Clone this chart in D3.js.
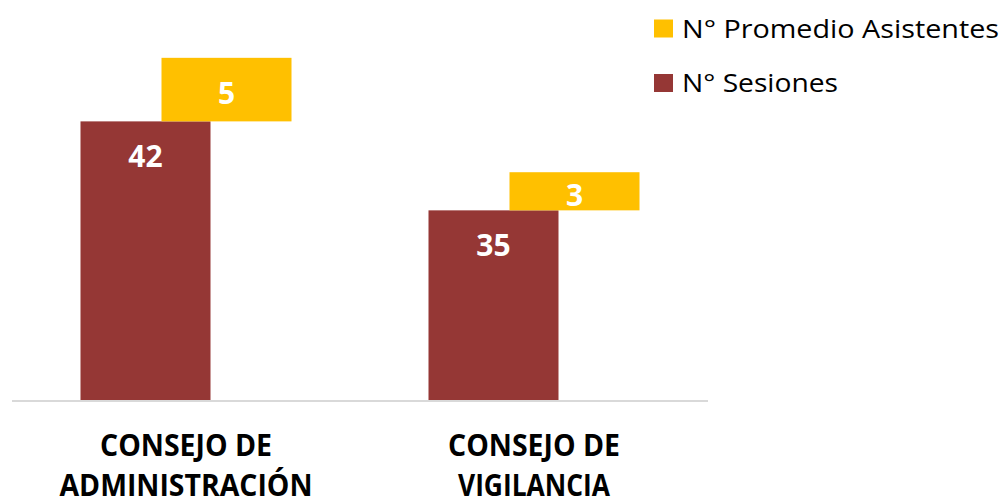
<!DOCTYPE html>
<html>
<head>
<meta charset="utf-8">
<script src="https://cdn.jsdelivr.net/npm/d3@7"></script>
<style>
  html, body { margin: 0; padding: 0; background: #fff; }
  svg { display: block; font-family: "Open Sans", sans-serif; }
</style>
</head>
<body>
<div id="chart"></div>
<script>

// data
const categories = ["CONSEJO DE ADMINISTRACIÓN", "CONSEJO DE VIGILANCIA"];
const categoryLines = [["CONSEJO DE", "ADMINISTRACIÓN"], ["CONSEJO DE", "VIGILANCIA"]];
const sesiones = [42, 35];
const asistentes = [5, 3];
const seriesNames = ["N° Promedio Asistentes", "N° Sesiones"];
const seriesColors = ["#ffc000", "#953735"];

var width = 1005;
var height = 503;

var svg = d3.select("#chart").append("svg")
    .attr("width", width)
    .attr("height", height)

// the value axis is not shown, it starts at 20
const x = d3.scaleBand()
    .domain(categories)
    .range([12, 708])

const y = d3.scaleLinear()
    .domain([20, 50])
    .range([401, 19.7])

const barW = 130
const shift = 40.5

// helper: squeeze / stretch a text to a given width
function fit(sel, w) {
    sel.attr("textLength", w).attr("lengthAdjust", "spacingAndGlyphs")
}

const rows = categories.map((c, i) => ({
    cat: c,
    lines: categoryLines[i],
    ses: sesiones[i],
    asi: asistentes[i]
}))

// red bars (N° Sesiones)
svg.append("g").selectAll("rect")
    .data(rows)
    .enter()
    .append("rect")
    .attr("x", d => x(d.cat) + x.bandwidth() / 2 - shift - barW / 2)
    .attr("y", d => y(d.ses))
    .attr("width", barW)
    .attr("height", d => y(20) - y(d.ses))
    .attr("fill", seriesColors[1])

// yellow bars sit on top of the red ones, moved to the right
svg.append("g").selectAll("rect")
    .data(rows)
    .enter()
    .append("rect")
    .attr("x", d => x(d.cat) + x.bandwidth() / 2 + shift - barW / 2)
    .attr("y", d => y(d.ses + d.asi))
    .attr("width", barW)
    .attr("height", d => y(d.ses) - y(d.ses + d.asi))
    .attr("fill", seriesColors[0])

// baseline
svg.append("line")
    .attr("x1", x.range()[0])
    .attr("x2", x.range()[1])
    .attr("y1", y(20))
    .attr("y2", y(20))
    .attr("stroke", "#d9d9d9")
    .attr("stroke-width", 2)

// value labels
svg.append("g").selectAll("text")
    .data(rows)
    .enter()
    .append("text")
    .attr("x", d => x(d.cat) + x.bandwidth() / 2 - shift)
    .attr("y", d => y(d.ses) + 46)
    .attr("text-anchor", "middle")
    .attr("font-size", 30)
    .attr("font-weight", "bold")
    .attr("fill", "#fff")
    .text(d => d.ses)

svg.append("g").selectAll("text")
    .data(rows)
    .enter()
    .append("text")
    .attr("x", d => x(d.cat) + x.bandwidth() / 2 + shift)
    .attr("y", d => (y(d.ses) + y(d.ses + d.asi)) / 2 + 14.5)
    .attr("text-anchor", "middle")
    .attr("font-size", 30)
    .attr("font-weight", "bold")
    .attr("fill", "#fff")
    .text(d => d.asi)

// category labels, two lines each
const labelW = [[172, 253], [172, 152]]
const catG = svg.append("g").selectAll("g")
    .data(rows)
    .enter()
    .append("g")

catG.each(function (d, i) {
    d.lines.forEach((line, j) => {
        d3.select(this).append("text")
            .attr("x", x(d.cat) + x.bandwidth() / 2)
            .attr("y", 456 + j * 39.5)
            .attr("text-anchor", "middle")
            .attr("font-size", 29.5)
            .attr("font-weight", "bold")
            .attr("fill", "#000")
            .text(line)
            .call(fit, labelW[i][j])
    })
})

// legend
const legendW = [317, 156]
const legend = svg.append("g").selectAll("g")
    .data(seriesNames)
    .enter()
    .append("g")
    .attr("transform", (d, i) => `translate(654, ${19.5 + i * 54.5})`)

legend.append("rect")
    .attr("width", 19)
    .attr("height", 18)
    .attr("fill", (d, i) => seriesColors[i])

legend.append("text")
    .attr("x", 28)
    .attr("y", 18)
    .attr("font-size", 25)
    .attr("fill", "#000")
    .text(d => d)
    .each(function (d, i) { d3.select(this).call(fit, legendW[i]) })

</script>
</body>
</html>
